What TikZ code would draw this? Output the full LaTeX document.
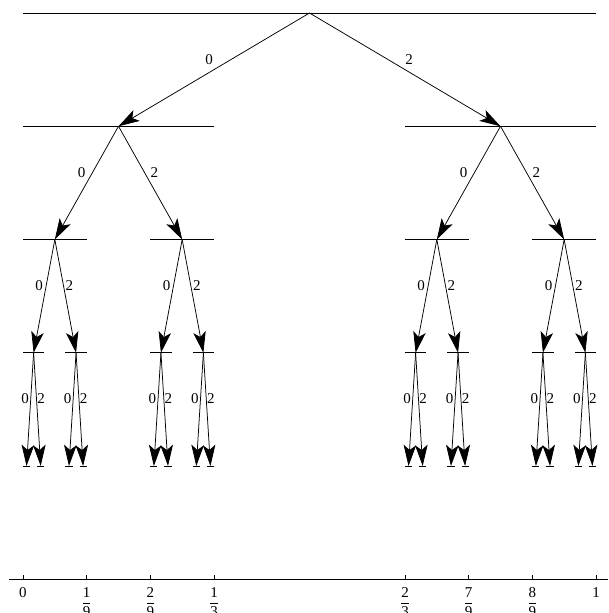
\documentclass[tikz,border=0pt]{standalone}
\usepackage{amsmath}
\usepackage{fontspec}
\setmainfont{Liberation Serif}
\usetikzlibrary{arrows.meta}
\tikzset{
  hline/.style={line width=0.8pt},
  arr/.style={line width=0.75pt,-{Stealth[length=21pt,width=12.5pt,inset=5pt]}},
  labzero/.style={midway,inner sep=0pt,xshift=-5pt,yshift=10.5pt,font=\fontsize{15}{17}\selectfont},
  labtwo/.style={midway,inner sep=0pt,xshift=4pt,yshift=10.5pt,font=\fontsize{15}{17}\selectfont},
  ticklab/.style={anchor=north,inner sep=0pt,font=\fontsize{15}{17}\selectfont},
  axisline/.style={line width=0.8pt}
}
\begin{document}
\begin{tikzpicture}[x=1pt,y=-1pt]
\useasboundingbox (0,0) rectangle (608,613);
% interval lines of the Cantor construction
\foreach \k in {0,...,4}{
  \pgfmathtruncatemacro{\n}{2^\k-1}
  \foreach \i in {0,...,\n}{
    \pgfmathsetmacro{\L}{(\k>=1)*2*mod(floor(\i/2^(\k-1)),2)/3+(\k>=2)*2*mod(floor(\i/2^(\k-2)),2)/9+(\k>=3)*2*mod(floor(\i/2^(\k-3)),2)/27+(\k>=4)*2*mod(floor(\i/2^(\k-4)),2)/81}
    \pgfmathsetmacro{\W}{573/3^\k}
    \pgfmathsetmacro{\Y}{13+113.25*\k}
    \coordinate (a-\k-\i) at ({23+573*\L},\Y);
    \coordinate (b-\k-\i) at ({23+573*\L+\W},\Y);
    \coordinate (c-\k-\i) at ({23+573*\L+\W/2},\Y);
    \draw[hline] (a-\k-\i) -- (b-\k-\i);
  }
}
% branching arrows
\foreach \k in {0,...,3}{
  \pgfmathtruncatemacro{\n}{2^\k-1}
  \pgfmathtruncatemacro{\kk}{\k+1}
  \foreach \i in {0,...,\n}{
    \pgfmathtruncatemacro{\l}{2*\i}
    \pgfmathtruncatemacro{\r}{2*\i+1}
    \draw[arr] (c-\k-\i) -- node[labzero]{0} (c-\kk-\l);
    \draw[arr] (c-\k-\i) -- node[labtwo]{2} (c-\kk-\r);
  }
}
% number line
\coordinate (axl) at (9,579);
\coordinate (axr) at (608,579);
\draw[axisline] (axl) -- (axr);
\foreach \t/\lab [count=\j] in {0/0, 1/$\dfrac{\text{1}}{\text{9}}$, 2/$\dfrac{\text{2}}{\text{9}}$, 3/$\dfrac{\text{1}}{\text{3}}$, 6/$\dfrac{\text{2}}{\text{3}}$, 7/$\dfrac{\text{7}}{\text{9}}$, 8/$\dfrac{\text{8}}{\text{9}}$, 9/1}{
  \coordinate (tk-\j) at ({23+573*\t/9},579);
  \draw[axisline] (tk-\j) -- ++(0,-4);
  \node[ticklab] (tl-\j) at ([yshift=-8pt]tk-\j) {\lab};
}
\end{tikzpicture}
\end{document}
